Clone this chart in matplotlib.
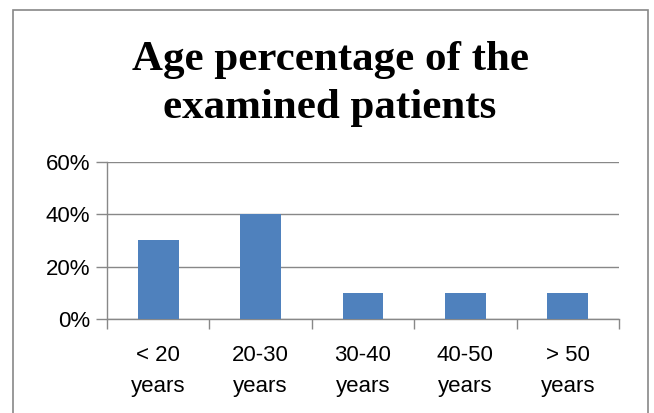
import matplotlib
matplotlib.use('Agg')
import matplotlib.pyplot as plt
from matplotlib.patches import Rectangle
from matplotlib.ticker import PercentFormatter

categories = ['< 20\nyears', '20-30\nyears', '30-40\nyears', '40-50\nyears', '> 50\nyears']
values = [30, 40, 10, 10, 10]
yticks = [0, 20, 40, 60]

W, H = 654, 413
fig = plt.figure(figsize=(W / 100, H / 100), dpi=100)
ax = fig.add_axes([107 / W, 1 - 319 / H, (619 - 107) / W, (319 - 162) / H])

# outer chart border
fig.patches.append(Rectangle((13 / W, -0.05), (648 - 13) / W, 1.05 - 10 / H,
                             transform=fig.transFigure, fill=False,
                             edgecolor='#888888', linewidth=1.2))

x = range(len(categories))
ax.bar(x, values, width=0.4, color='#4f81bd', zorder=3)
ax.set_xlim(-0.5, len(categories) - 0.5)
ax.set_ylim(0, 60)
ax.set_yticks(yticks)
ax.yaxis.set_major_formatter(PercentFormatter(decimals=0))
ax.set_xticks([i - 0.5 for i in range(len(categories) + 1)], minor=False)
ax.set_xticklabels([])
ax.set_xticks(list(x), minor=True)
ax.set_xticklabels(categories, minor=True, fontsize=16, family='Liberation Sans',
                   linespacing=1.6)
ax.tick_params(axis='x', which='minor', length=0, pad=19)
ax.tick_params(axis='x', which='major', length=7, color='#888888', width=1)
ax.tick_params(axis='y', length=8, color='#888888', width=1, pad=4, labelsize=16)
for lab in ax.get_yticklabels():
    lab.set_family('Liberation Sans')

ax.grid(axis='y', color='#888888', linewidth=1, zorder=0)
for s in ['top', 'right']:
    ax.spines[s].set_visible(False)
for s in ['left', 'bottom']:
    ax.spines[s].set_color('#888888')
    ax.spines[s].set_linewidth(1)

fig.text(330 / W, 1 - 84 / H, 'Age percentage of the\nexamined patients',
         ha='center', va='center', fontsize=31, fontweight='bold',
         family='Liberation Serif', linespacing=1.35)

fig.savefig('out.png', dpi=100)
